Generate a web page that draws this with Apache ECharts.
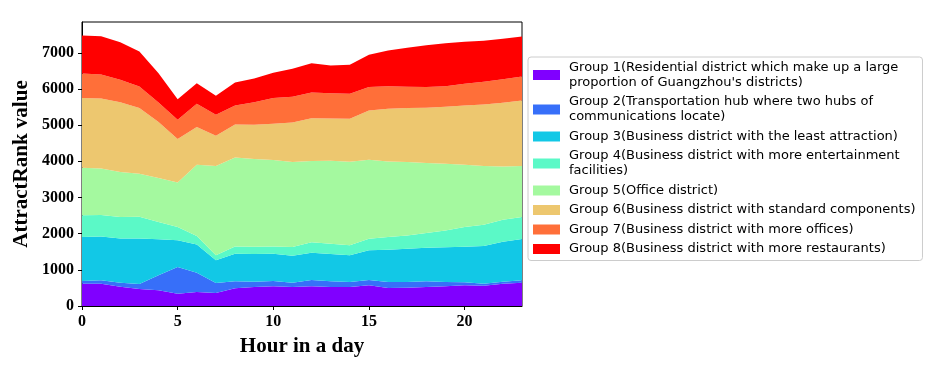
<!DOCTYPE html>
<html>
<head>
<meta charset="utf-8">
<script src="https://cdn.jsdelivr.net/npm/echarts@6/dist/echarts.min.js"></script>
<style>
html,body{margin:0;padding:0;background:#fff;}
#chart{width:932px;height:366px;}
</style>
</head>
<body>
<div id="chart"></div>
<script>
const hours = [0,1,2,3,4,5,6,7,8,9,10,11,12,13,14,15,16,17,18,19,20,21,22,23];
const xTicks = [0,5,10,15,20];
const yTicks = [0,1000,2000,3000,4000,5000,6000,7000];

const groupNames = [
  "Group 1(Residential district which make up a large\nproportion of Guangzhou's districts)",
  "Group 2(Transportation hub where two hubs of\ncommunications locate)",
  "Group 3(Business district with the least attraction)",
  "Group 4(Business district with more entertainment\nfacilities)",
  "Group 5(Office district)",
  "Group 6(Business district with standard components)",
  "Group 7(Business district with more offices)",
  "Group 8(Business district with more restaurants)"
];
const groupColors = ['#8000ff','#376ff9','#12c8e6','#5bf9c7','#a4f99f','#edc76f','#ff6f39','#ff0000'];

const group1 = [617,617,534,470,433,341,387,359,488,525,543,525,543,525,525,571,497,506,525,543,571,562,617,645];
const group2 = [74,92,111,138,414,736,534,276,193,147,148,120,175,156,138,147,166,157,156,120,83,55,55,64];
const group3 = [1215,1215,1224,1261,995,737,782,627,765,764,755,745,755,755,737,820,893,921,930,958,985,1040,1105,1142];
const group4 = [599,590,590,599,478,368,231,138,202,203,202,240,286,286,276,322,350,368,406,469,543,590,608,608];
const group5 = [1316,1289,1243,1188,1216,1234,1970,2467,2459,2422,2385,2348,2247,2293,2311,2182,2090,2026,1933,1842,1722,1620,1473,1408];
const group6 = [1925,1934,1933,1814,1547,1197,1041,838,911,948,1004,1096,1187,1169,1188,1363,1455,1492,1529,1575,1639,1704,1759,1814];
const group7 = [681,663,617,598,543,534,644,580,525,626,709,709,709,700,691,645,626,589,571,570,599,626,654,663];
const group8 = [1050,1059,1041,967,810,571,571,525,636,654,700,773,811,764,801,893,986,1077,1160,1188,1160,1133,1114,1105];

const groups = [group1,group2,group3,group4,group5,group6,group7,group8];

const chart = echarts.init(document.getElementById('chart'), null, {renderer:'canvas'});
const serif = "'Liberation Serif','Times New Roman',serif";
const series = groups.map((g, i) => ({
  name: groupNames[i],
  type: 'line',
  stack: 'total',
  symbol: 'none',
  silent: true,
  lineStyle: {width: 0, color: groupColors[i]},
  itemStyle: {color: groupColors[i]},
  areaStyle: {color: groupColors[i], opacity: 1},
  data: g.slice()
}));

const tickShown = (idx) => xTicks.includes(hours[idx]);

chart.setOption({
  animation: false,
  backgroundColor: '#fff',
  grid: {left: 82, right: 410, top: 22, bottom: 60, show: true, borderColor: '#000', borderWidth: 1, backgroundColor: 'transparent'},
  xAxis: {
    type: 'category', boundaryGap: false,
    data: hours.map(String),
    name: 'Hour in a day', nameLocation: 'middle', nameGap: 30,
    nameTextStyle: {fontFamily: serif, fontWeight: 'bold', fontSize: 21, color: '#000'},
    axisLine: {show: true, lineStyle: {color: '#000', width: 1}},
    axisTick: {show: true, inside: false, length: 4, interval: tickShown, lineStyle: {color: '#000'}},
    axisLabel: {fontFamily: serif, fontWeight: 'bold', fontSize: 16, color: '#000', margin: 8, interval: tickShown},
    splitLine: {show: false}
  },
  yAxis: {
    type: 'value', min: 0, max: 7850, interval: 1000,
    name: 'AttractRank value', nameLocation: 'middle', nameGap: 50,
    nameTextStyle: {fontFamily: serif, fontWeight: 'bold', fontSize: 21, color: '#000'},
    axisLine: {show: true, lineStyle: {color: '#000', width: 1}},
    axisTick: {show: true, inside: false, length: 4, lineStyle: {color: '#000'}},
    axisLabel: {fontFamily: serif, fontWeight: 'bold', fontSize: 16, color: '#000', margin: 8,
      formatter: v => yTicks.includes(v) ? String(v) : '', showMaxLabel: false},
    splitLine: {show: false}
  },
  legend: {
    orient: 'vertical', left: 528, top: 57,
    padding: [3, 7, 4, 5],
    borderColor: '#cccccc', borderWidth: 1, borderRadius: 3,
    backgroundColor: '#fff',
    itemWidth: 27, itemHeight: 10, itemGap: 4.5,
    icon: 'rect', selectedMode: false,
    textStyle: {fontFamily: "'DejaVu Sans',sans-serif", fontSize: 13, lineHeight: 15, color: '#000', padding: [0,0,0,4]},
    data: groupNames
  },
  series: series
});
</script>
</body>
</html>
